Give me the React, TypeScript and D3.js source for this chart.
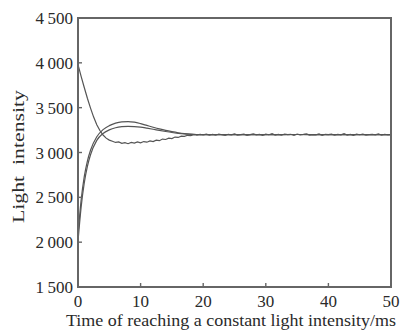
import React from 'react';
import * as d3 from 'd3';

// x ticks (ms) and y ticks (light intensity)
const xTicks = [0, 10, 20, 30, 40, 50];
const yTicks = [1500, 2000, 2500, 3000, 3500, 4000, 4500];

// noisy falling curve, sampled every 0.5 ms from 0 ms
const fallStep = 0.5;
const fallValues = [
  3980, 3850, 3725, 3605, 3495, 3395, 3310, 3245, 3195, 3160,
  3138, 3125, 3112, 3118, 3102, 3110, 3098, 3112, 3105, 3118,
  3108, 3122, 3115, 3130, 3122, 3138, 3132, 3150, 3145, 3160,
  3155, 3172, 3168, 3182, 3180, 3192, 3188, 3198, 3193, 3202,
  3196, 3204, 3195, 3201, 3193, 3206, 3198, 3190, 3203, 3197,
  3208, 3194, 3200, 3205, 3192, 3199, 3207, 3196, 3202, 3191,
  3204, 3198, 3209, 3195, 3201, 3193, 3206, 3199, 3203, 3190,
  3205, 3197, 3202, 3208, 3194, 3200, 3196, 3207, 3192, 3203,
  3199, 3205, 3193, 3201, 3197, 3210, 3195, 3202, 3191, 3204,
  3198, 3206, 3194, 3200, 3203, 3196, 3208, 3193, 3201, 3197,
  3200,
];

// rising curves [ms, intensity]
const riseUpper: [number, number][] = [
  [0, 2080], [0.5, 2470], [1, 2730], [1.5, 2905], [2, 3025], [3, 3175],
  [4, 3255], [5, 3300], [6, 3328], [7, 3342], [8, 3345], [9, 3338],
  [10, 3322], [11, 3302], [12, 3282], [13, 3263], [14, 3246], [15, 3232],
  [16, 3220], [17, 3211], [18, 3205], [19, 3201], [20, 3199], [25, 3200],
  [30, 3198], [35, 3201], [40, 3199], [45, 3200], [50, 3199],
];
const riseLower: [number, number][] = [
  [0, 2010], [0.5, 2390], [1, 2660], [1.5, 2845], [2, 2975], [3, 3135],
  [4, 3212], [5, 3252], [6, 3276], [7, 3288], [8, 3292], [9, 3289],
  [10, 3282], [11, 3271], [12, 3259], [13, 3246], [14, 3234], [15, 3223],
  [16, 3214], [17, 3207], [18, 3203], [19, 3200], [20, 3198], [25, 3200],
  [30, 3199], [35, 3201], [40, 3198], [45, 3200], [50, 3200],
];

const W = 403;
const H = 334;
const margin = { left: 78, right: 12, top: 18, bottom: 47 };
const ink = '#666';
const font = '"Liberation Serif", "DejaVu Serif", serif';

const fmt = (v: number) => {
  const s = String(v);
  return s.length > 3 ? s.slice(0, s.length - 3) + '\u2009' + s.slice(-3) : s;
};

export default function App() {
  const x = d3.scaleLinear().domain([0, 50]).range([margin.left, W - margin.right]);
  const y = d3.scaleLinear().domain([1500, 4500]).range([H - margin.bottom, margin.top]);

  const line = d3
    .line<[number, number]>()
    .x((d) => x(d[0]))
    .y((d) => y(d[1]))
    .curve(d3.curveMonotoneX);

  const fall: [number, number][] = fallValues.map((v, i) => [i * fallStep, v]);
  const fallLine = d3
    .line<[number, number]>()
    .x((d) => x(d[0]))
    .y((d) => y(d[1]));

  const [x0, x1] = x.range();
  const [y0, y1] = y.range();

  return (
    <svg width={W} height={H} style={{ position: 'absolute', left: 0, top: 0 }}>
      <rect width={W} height={H} fill="#fff" />
      <g fill="none" stroke="#555" strokeWidth={1.2}>
        <path d={line(riseUpper) || ''} />
        <path d={line(riseLower) || ''} />
        <path d={fallLine(fall) || ''} />
      </g>
      <rect x={x0} y={y1} width={x1 - x0} height={y0 - y1} fill="none" stroke={ink} strokeWidth={2} />
      <g stroke={ink} strokeWidth={1.4}>
        {xTicks.map((t) => (
          <line key={t} x1={x(t)} x2={x(t)} y1={y0} y2={y0 - 4} />
        ))}
        {yTicks.map((t) => (
          <line key={t} x1={x0} x2={x0 + 4} y1={y(t)} y2={y(t)} />
        ))}
      </g>
      <g fontFamily={font} fontSize={17} fill="#2a2a2a">
        {xTicks.map((t) => (
          <text key={t} x={x(t)} y={y0 + 20} textAnchor="middle">
            {t}
          </text>
        ))}
        {yTicks.map((t) => (
          <text key={t} x={x0 - 5} y={y(t) + 6} textAnchor="end">
            {fmt(t)}
          </text>
        ))}
        <text x={66} y={326} fontSize={17} textLength={330} lengthAdjust="spacingAndGlyphs">
          Time of reaching a constant light intensity/ms
        </text>
        <text
          transform={`translate(24,223) rotate(-90)`}
          fontSize={17}
          textLength={133}
          lengthAdjust="spacingAndGlyphs"
          style={{ whiteSpace: 'pre' }}
        >
          Light  intensity
        </text>
      </g>
    </svg>
  );
}
